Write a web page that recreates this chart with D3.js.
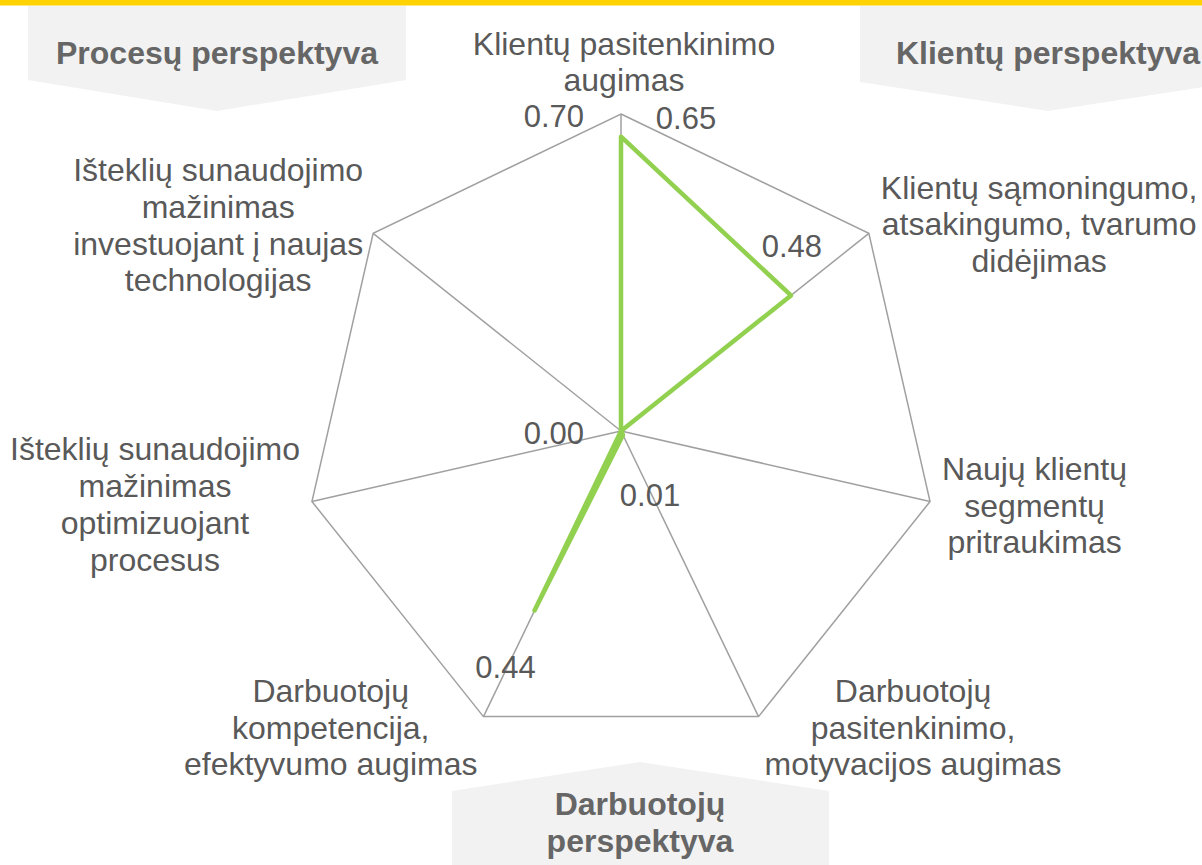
<!DOCTYPE html>
<html lang="lt">
<head>
<meta charset="UTF-8">
<title>Perspektyvos</title>
<style>
  body { margin: 0; background: #fff; }
  svg { display: block; font-family: "Liberation Sans", Arial, sans-serif; }
  .cat { fill: #595959; font-size: 32px; }
  .val { fill: #595959; font-size: 31px; }
  .banner text { fill: #666; font-size: 32px; font-weight: bold; }
</style>
</head>
<body>
<svg width="1202" height="865"></svg>
<script src="https://cdnjs.cloudflare.com/ajax/libs/d3/7.8.5/d3.min.js"></script>
<script>

var categories = [
  ["Klientų pasitenkinimo", "augimas"],
  ["Klientų sąmoningumo,", "atsakingumo, tvarumo", "didėjimas"],
  ["Naujų klientų", "segmentų", "pritraukimas"],
  ["Darbuotojų", "pasitenkinimo,", "motyvacijos augimas"],
  ["Darbuotojų", "kompetencija,", "efektyvumo augimas"],
  ["Išteklių sunaudojimo", "mažinimas", "optimizuojant", "procesus"],
  ["Išteklių sunaudojimo", "mažinimas", "investuojant į naujas", "technologijas"]
];
var values = [0.65, 0.48, 0.00, 0.01, 0.44, 0.00, 0.00];
var shownLabels = [0, 1, 3, 4];          // data labels visible in the original
var axisTicks = [0.00, 0.70];
var perspectives = [["Procesų perspektyva"], ["Klientų perspektyva"], ["Darbuotojų", "perspektyva"]];

var svg = d3.select("svg"),
    cx = 621, cy = 431, R = 317,
    n = categories.length,
    lh = 36.7,
    fmt = d3.format(".2f");

var r = d3.scaleLinear().domain([0, 0.7]).range([0, R]);
var ang = function(i) { return i * 2 * Math.PI / n; };
var px = function(i, v) { return cx + r(v) * Math.sin(ang(i)); };
var py = function(i, v) { return cy - r(v) * Math.cos(ang(i)); };

// yellow top rule
svg.append("rect").attr("x", 0).attr("y", 0).attr("width", 1202).attr("height", 5.5).attr("fill", "#ffd200");

// grey perspective banners
var banners = [
  {pts: [[28, 6], [406, 6], [406, 80], [217, 111], [28, 80]], tx: 217, ty: 64},
  {pts: [[860, 6], [1237, 6], [1237, 82], [1048, 111], [860, 82]], tx: 1048, ty: 64},
  {pts: [[452, 865], [452, 791], [640, 762], [829, 791], [829, 865]], tx: 640, ty: 815}
];
var bg = svg.append("g").attr("class", "banner");
banners.forEach(function(b, k) {
  bg.append("polygon").attr("points", b.pts.join(" ")).attr("fill", "#f2f2f2");
  var t = bg.append("text").attr("text-anchor", "middle");
  perspectives[k].forEach(function(s, j) {
    t.append("tspan").attr("x", b.tx).attr("y", b.ty + j * 37).text(s);
  });
});

var g = svg.append("g").attr("transform", "translate(" + cx + "," + cy + ")");

var radial = d3.lineRadial()
    .angle(function(d, i) { return ang(i); })
    .radius(function(d) { return r(d); })
    .curve(d3.curveLinearClosed);

// spokes
g.selectAll(".spoke")
  .data(d3.range(n))
  .enter().append("line")
    .attr("x1", 0).attr("y1", 0)
    .attr("x2", function(i) { return px(i, 0.7) - cx; })
    .attr("y2", function(i) { return py(i, 0.7) - cy; })
    .attr("stroke", "#a0a0a0").attr("stroke-width", 1.5);

// outer ring
g.append("path")
    .attr("d", radial(d3.range(n).map(function() { return 0.7; })))
    .attr("fill", "none").attr("stroke", "#a0a0a0").attr("stroke-width", 1.5);

// series
g.append("path")
    .attr("d", radial(values))
    .attr("fill", "none")
    .attr("stroke", "#92d050")
    .attr("stroke-width", 4.5)
    .attr("stroke-linejoin", "round");

// axis tick labels
svg.selectAll(".tick")
  .data(axisTicks)
  .enter().append("text")
    .attr("class", "val")
    .attr("text-anchor", "end")
    .attr("x", cx - 37)
    .attr("y", function(d) { return py(0, d) + 13; })
    .text(fmt);

// data labels
var labelOff = {0: [65, -19], 1: [1, -49], 3: [27, 60], 4: [-29, 56]};
svg.selectAll(".dlabel")
  .data(shownLabels)
  .enter().append("text")
    .attr("class", "val")
    .attr("text-anchor", "middle")
    .attr("x", function(i) { return px(i, values[i]) + labelOff[i][0]; })
    .attr("y", function(i) { return py(i, values[i]) + labelOff[i][1] + 11; })
    .text(function(i) { return fmt(values[i]); });

// category labels
var catDy = [-52, -9, 4, 11, 11, 3, -8];
var catGap = [0, 12, 12, 6, 6, 12, 10];
categories.forEach(function(lines, i) {
  var t = svg.append("text").attr("class", "cat").attr("text-anchor", "middle");
  var spans = lines.map(function(s) { return t.append("tspan").text(s); });
  var w = d3.max(spans, function(s) { return s.node().getComputedTextLength(); });
  var vx = px(i, 0.7), vy = py(i, 0.7), s = Math.sin(ang(i));
  var x = Math.abs(s) < 0.01 ? vx + 3 : vx + Math.sign(s) * (w / 2 + catGap[i]);
  var yc = vy + catDy[i];
  var y0 = yc - (lines.length - 1) * lh / 2 + 11;
  spans.forEach(function(sp, j) { sp.attr("x", x).attr("y", y0 + j * lh); });
});

</script>
</body>
</html>
